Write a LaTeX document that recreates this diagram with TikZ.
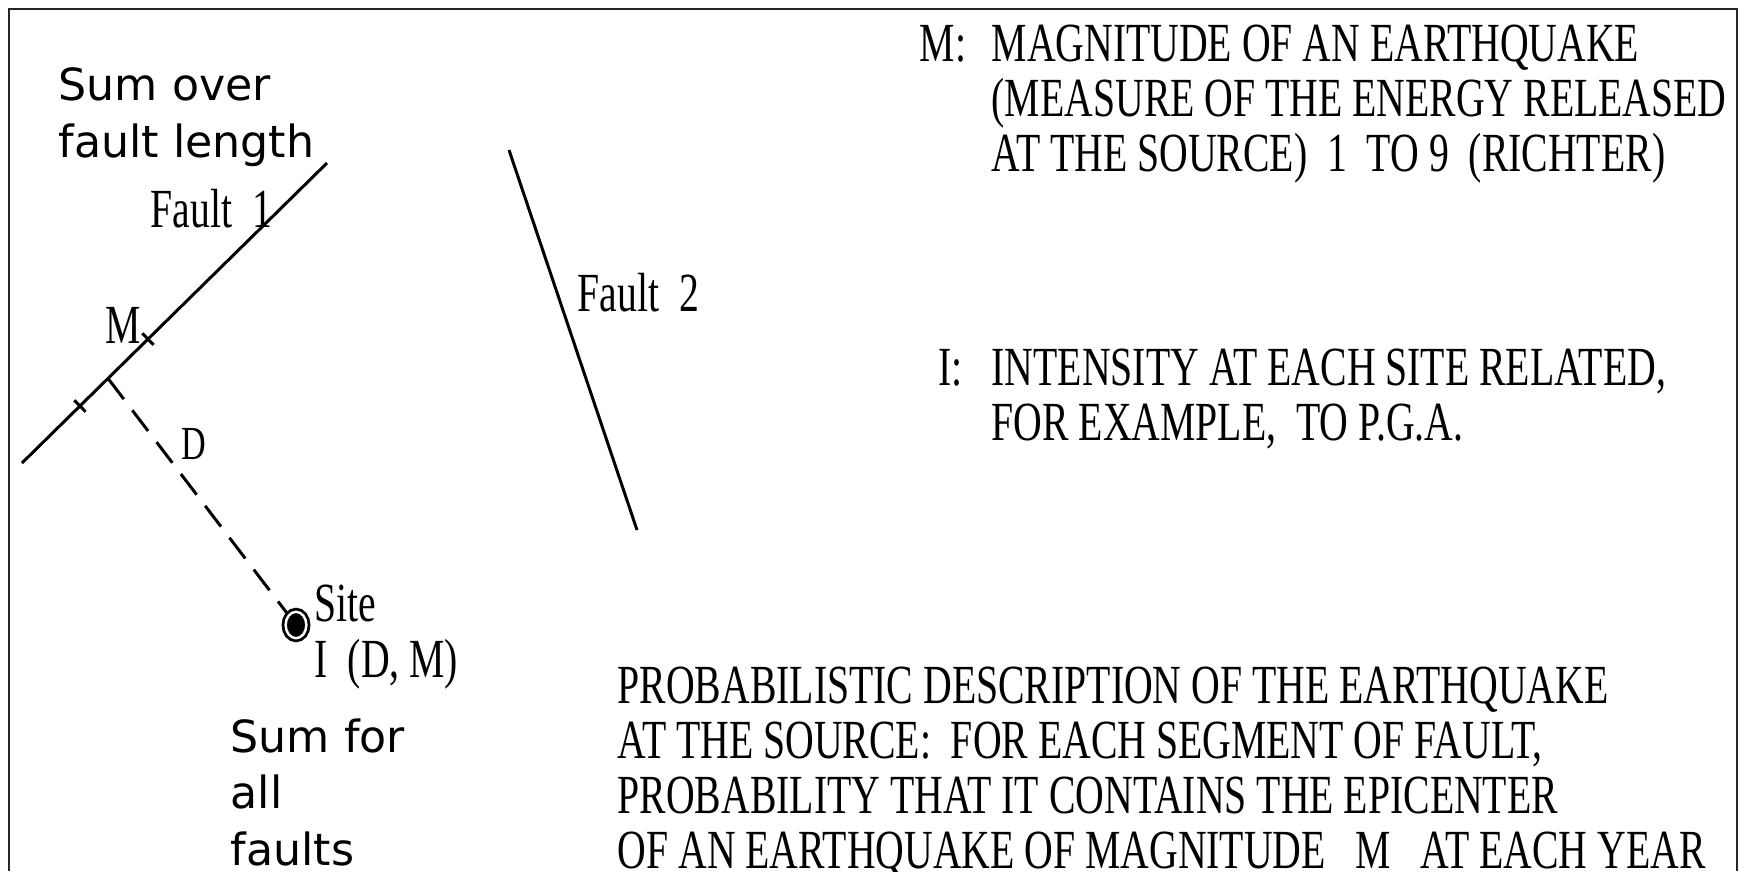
\documentclass[tikz,border=0pt]{standalone}
\usepackage{fontspec}
\setmainfont{Liberation Serif}
\newfontfamily\narrowserif[FakeStretch=0.72]{Liberation Serif}
\newfontfamily\plainsans{DejaVu Sans}
\usetikzlibrary{positioning, shapes.geometric}

\begin{document}
\begin{tikzpicture}[
  x=0.1mm, y=-0.1mm,
  frame/.style={draw=black!85, line width=0.7pt},
  fault/.style={line width=0.85pt},
  serif/.style={font=\narrowserif\fontsize{15.7}{15.6}\selectfont,
                inner sep=0pt, anchor=base west},
  block/.style={serif, align=left},
  note/.style={font=\plainsans\fontsize{12.6}{16}\selectfont,
               inner sep=0pt, anchor=base west, align=left},
  tick/.style={draw, line width=0.85pt, minimum width=0pt,
               minimum height=4.6pt, inner sep=0pt, sloped},
  site/.style={ellipse, fill=black, draw=black, double=white,
               double distance=0.7pt, line width=0.8pt,
               minimum width=5.9pt, minimum height=7.5pt, inner sep=0pt},
  dist/.style={line width=0.85pt, dash pattern=on 7.4pt off 4pt}
]
  \useasboundingbox (0,0) rectangle (1740,871);
  \draw[frame] (9,871) -- (9,9) -- (1737,9) -- (1737,871);

  % faults
  \coordinate (F1a) at (22,463);
  \coordinate (F1b) at (327,163);
  \coordinate (F2a) at (509,150);
  \coordinate (F2b) at (637,530);
  \draw[fault] (F1a) -- (F1b)
    node[tick, pos=0.19] (Tk1) {}
    node[tick, pos=0.413] (Tk2) {}
    coordinate[pos=0.282] (Foot);
  \draw[fault] (F2a) -- (F2b);

  % site and distance
  \node[site] (Site) at (296,625) {};
  \draw[dist] (Foot) -- (Site);

  \node[serif] (F1lab) at (150,227) {Fault~~1};
  \node[serif] (F2lab) at (577,311) {Fault~~2};
  \node[serif] (Mlab) at (105,343) {M};
  \node[serif, font=\narrowserif\fontsize{13.5}{14}\selectfont] (Dlab) at (181,459) {D};
  \node[serif] (SiteLab) at (314,621) {Site};
  \node[serif] (Ilab) at (314,677) {I~~(D, M)};

  % multi-line nodes sit on their last baseline
  \node[note] (SumOver) at (58,157) {Sum over\\fault length};
  \node[note] (SumAll) at (230,865) {Sum for\\all\\faults};

  % legend texts
  \node[serif] (Mkey) at (919,61) {M:};
  \node[block] (Mtext) at (991,171)
    {MAGNITUDE OF AN EARTHQUAKE\\
     (MEASURE OF THE ENERGY RELEASED\\
     AT THE SOURCE)~~1~~TO 9~~(RICHTER)};
  \node[serif] (Ikey) at (938,385) {I:};
  \node[block] (Itext) at (991,440)
    {INTENSITY AT EACH SITE RELATED,\\
     FOR EXAMPLE,~~TO P.G.A.};
  \node[block] (Ptext) at (617,868)
    {PROBABILISTIC DESCRIPTION OF THE EARTHQUAKE\\
     AT THE SOURCE:~~FOR EACH SEGMENT OF FAULT,\\
     PROBABILITY THAT IT CONTAINS THE EPICENTER\\
     OF AN EARTHQUAKE OF MAGNITUDE~~~M~~~AT EACH YEAR};
\end{tikzpicture}
\end{document}
